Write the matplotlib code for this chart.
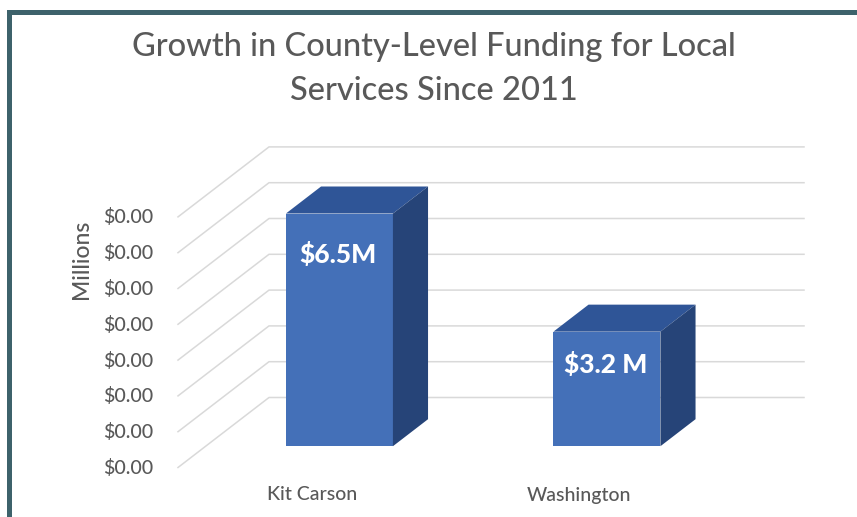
#!/usr/bin/python3
import matplotlib
matplotlib.use("Agg")
import matplotlib.pyplot as plt
from matplotlib.patches import Polygon, Rectangle

categories = ["Kit Carson", "Washington"]
values = [6.5, 3.2]
bar_labels = ["$6.5M", "$3.2 M"]
ticks = [0, 1, 2, 3, 4, 5, 6, 7]
tick_labels = ["$0.00"] * 8

W, H = 857, 517
GREY = "#595959"

# oblique 3D projection of the plot box, results in pixels
X0, X1 = 178, 713
Y0, UNIT = 467.5, 35.8
DX, DY = 91, 70
BAR_WIDTH = 0.4
DEPTH_FRONT, DEPTH_BACK = 0.304, 0.69


def project(cat, val, depth=0.0):
    x = X0 + (cat + 0.5) / len(categories) * (X1 - X0) + depth * DX
    y = Y0 - val * UNIT - depth * DY
    return x, y


plt.rcParams["font.family"] = ["Lato", "DejaVu Sans"]
fig = plt.figure(figsize=(W / 100, H / 100), dpi=100)
ax = fig.add_axes([0, 0, 1, 1])
ax.set_xlim(0, W)
ax.set_ylim(H, 0)
ax.axis("off")

# border around the slide
ax.add_patch(Rectangle((7.3, 10), W, 5, fc="#3d626b", ec="none", zorder=1))
ax.add_patch(Rectangle((7.3, 10), 5, H, fc="#3d626b", ec="none", zorder=1))

# gridlines along the side wall and the back wall
for t, lab in zip(ticks, tick_labels):
    fx, fy = project(-0.5, t)
    bx, by = project(-0.5, t, 1)
    ex, ey = project(1.5, t, 1)
    ax.plot([fx, bx, ex], [fy, by, ey], color="#d9d9d9", lw=1.1, zorder=2)
    ax.text(153.5, fy + 0.5, lab, ha="right", va="center", fontsize=14,
            fontweight="medium", color=GREY)

# bars as three visible faces
for i, (v, lab, drop) in enumerate(zip(values, bar_labels, [41, 33])):
    l, r = i - BAR_WIDTH / 2, i + BAR_WIDTH / 2
    fbl = project(l, 0, DEPTH_FRONT)
    fbr = project(r, 0, DEPTH_FRONT)
    ftl = project(l, v, DEPTH_FRONT)
    ftr = project(r, v, DEPTH_FRONT)
    btl = project(l, v, DEPTH_BACK)
    btr = project(r, v, DEPTH_BACK)
    bbr = project(r, 0, DEPTH_BACK)
    ax.add_patch(Polygon([fbl, fbr, ftr, ftl], fc="#4470b8", ec="none", zorder=3))
    ax.add_patch(Polygon([ftl, ftr, btr, btl], fc="#2f5597", ec="none", zorder=3))
    ax.add_patch(Polygon([fbr, bbr, btr, ftr], fc="#264478", ec="none", zorder=3))
    ax.text((ftl[0] + ftr[0]) / 2 - 1, ftl[1] + drop, lab, ha="center", va="center",
            fontsize=19, fontweight="black", color="white", zorder=4)

    ax.text(project(i, 0)[0], 495, categories[i], ha="center", va="center",
            fontsize=14, fontweight="medium", color=GREY)

ax.text(82, 259, "Millions", rotation=90, ha="center", va="center",
        fontsize=16.5, fontweight="medium", color=GREY)
ax.text(434, 47, "Growth in County-Level Funding for Local", ha="center", va="center",
        fontsize=23.5, fontweight="medium", color=GREY)
ax.text(434, 91, "Services Since 2011", ha="center", va="center",
        fontsize=23.5, fontweight="medium", color=GREY)

fig.savefig("out.png", dpi=100)
